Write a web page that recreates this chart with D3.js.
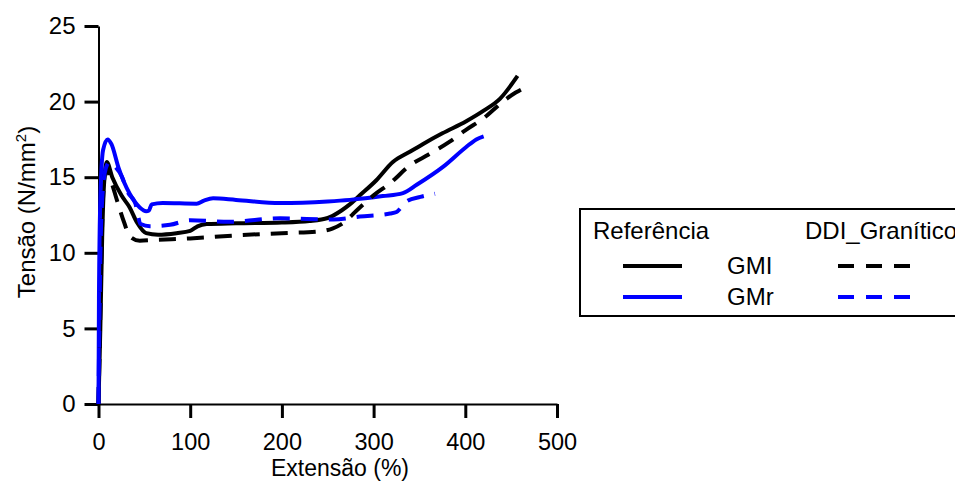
<!DOCTYPE html>
<html><head><meta charset="utf-8">
<script src="https://cdn.jsdelivr.net/npm/d3@7"></script>
<style>
body{margin:0;background:#fff;}
text{font-family:"Liberation Sans",Arial,sans-serif;}
</style></head>
<body><svg id="c" width="955" height="481"></svg>
<script>
// ---- data ----
const xTicks = [0,100,200,300,400,500];
const yTicks = [0,5,10,15,20,25];
const gmlRefX = [0,2,4,6,9,15,25,34,42,52,65,85,100,108,118,150,200,230,250,265,274,285,303,321,340,354,375,401,420,438,457];
const gmlRefY = [0,5,11,14.5,16,15,13.8,13.0,12.0,11.3,11.2,11.3,11.45,11.75,11.9,11.95,12.0,12.1,12.3,12.8,13.2,13.8,14.8,16.0,16.7,17.2,17.9,18.7,19.4,20.2,21.7];
const gmlDdiX = [0,2,4,7,9,14,20,28,34,45,60,100,150,200,238,255,265,285,300,318,340,360,383,400,420,441,455,468];
const gmlDdiY = [0,6,12,15.2,15.5,14.7,13.5,12.0,11.1,10.8,10.85,10.95,11.15,11.3,11.4,11.6,11.9,13.0,13.8,14.6,15.8,16.5,17.35,18.1,18.9,20.0,20.6,21.0];
const gmrRefX = [0,0.5,2,5,10,14,22,34,45,52,55,58,70,107,115,125,150,198,250,274,310,332,347,376,401,412,420];
const gmrRefY = [0,7,13.5,16.8,17.5,17.2,15.6,13.9,13.0,12.75,12.8,13.2,13.3,13.25,13.45,13.6,13.5,13.3,13.4,13.5,13.75,13.95,14.5,15.7,17.0,17.5,17.7];
const gmrDdiX = [0,1.5,4,8,12,18,25,32,40,46,56,78,100,143,198,256,285,318,325,330,336,351,367];
const gmrDdiY = [0,8,13.5,15.6,16.0,15.7,15.1,14.0,13.3,11.9,11.75,11.85,12.15,12.05,12.28,12.2,12.4,12.6,12.7,13.0,13.4,13.7,13.9];
const legendHeaders = ["Referência","DDI_Granítico"];
const legendNames = ["GMI","GMr"];
const colors = ["#000000","#0000ff"];

// ---- chart ----
const svg = d3.select("#c");
const x = d3.scaleLinear().domain([0,500]).range([98.5,557]);
const y = d3.scaleLinear().domain([0,25]).range([404,26]);

const xAxis = svg.append("g").attr("transform","translate(0,404)")
  .call(d3.axisBottom(x).tickValues(xTicks).tickSize(14).tickSizeOuter(0));
const yAxis = svg.append("g").attr("transform","translate(98.5,0)")
  .call(d3.axisLeft(y).tickValues(yTicks).tickSize(14).tickSizeOuter(0).tickPadding(9));
[xAxis,yAxis].forEach(a=>{
  a.select(".domain").attr("stroke","#000").attr("stroke-width",2);
  a.selectAll(".tick line").attr("stroke","#000").attr("stroke-width",3);
  a.selectAll("text").attr("font-size",24).attr("fill","#000").attr("font-family","Liberation Sans, Arial, sans-serif");
});
xAxis.selectAll("text").attr("y",46).attr("dy",null).attr("font-size",23.5);

svg.append("text").attr("x",340).attr("y",476).attr("text-anchor","middle")
  .attr("font-size",23).text("Extensão (%)");
const yt = svg.append("text").attr("transform","translate(35,212) rotate(-90)")
  .attr("text-anchor","middle").attr("font-size",24);
yt.append("tspan").text("Tensão (N/mm");
yt.append("tspan").attr("font-size",15).attr("dy",-9).text("2");
yt.append("tspan").attr("dy",9).text(")");

const line = d3.line().x(d=>x(d[0])).y(d=>y(d[1])).curve(d3.curveMonotoneX);
const series = [
  {xs:gmlRefX, ys:gmlRefY, c:colors[0], dash:null},
  {xs:gmrRefX, ys:gmrRefY, c:colors[1], dash:null},
  {xs:gmlDdiX, ys:gmlDdiY, c:colors[0], dash:"17,11"},
  {xs:gmrDdiX, ys:gmrDdiY, c:colors[1], dash:"17,11"}
];
series.forEach(s=>{
  svg.append("path").datum(s.xs.map((v,i)=>[v,s.ys[i]]))
    .attr("fill","none").attr("stroke",s.c).attr("stroke-width",4)
    .attr("stroke-dasharray",s.dash).attr("d",line);
});

// ---- legend ----
const lg = svg.append("g");
lg.append("rect").attr("x",580).attr("y",209).attr("width",420).attr("height",107)
  .attr("fill","#fff").attr("stroke","#000").attr("stroke-width",2);
lg.append("text").attr("x",593).attr("y",239).attr("font-size",24).text(legendHeaders[0]);
lg.append("text").attr("x",805).attr("y",239).attr("font-size",24).text(legendHeaders[1]);
legendNames.forEach((n,i)=>{
  const yy = 266 + i*31;
  lg.append("line").attr("x1",623).attr("x2",682).attr("y1",yy).attr("y2",yy)
    .attr("stroke",colors[i]).attr("stroke-width",4);
  lg.append("line").attr("x1",838).attr("x2",912).attr("y1",yy).attr("y2",yy)
    .attr("stroke",colors[i]).attr("stroke-width",4).attr("stroke-dasharray","16,12");
  lg.append("text").attr("x",727).attr("y",yy+8).attr("font-size",24).text(n);
});
</script></body></html>
